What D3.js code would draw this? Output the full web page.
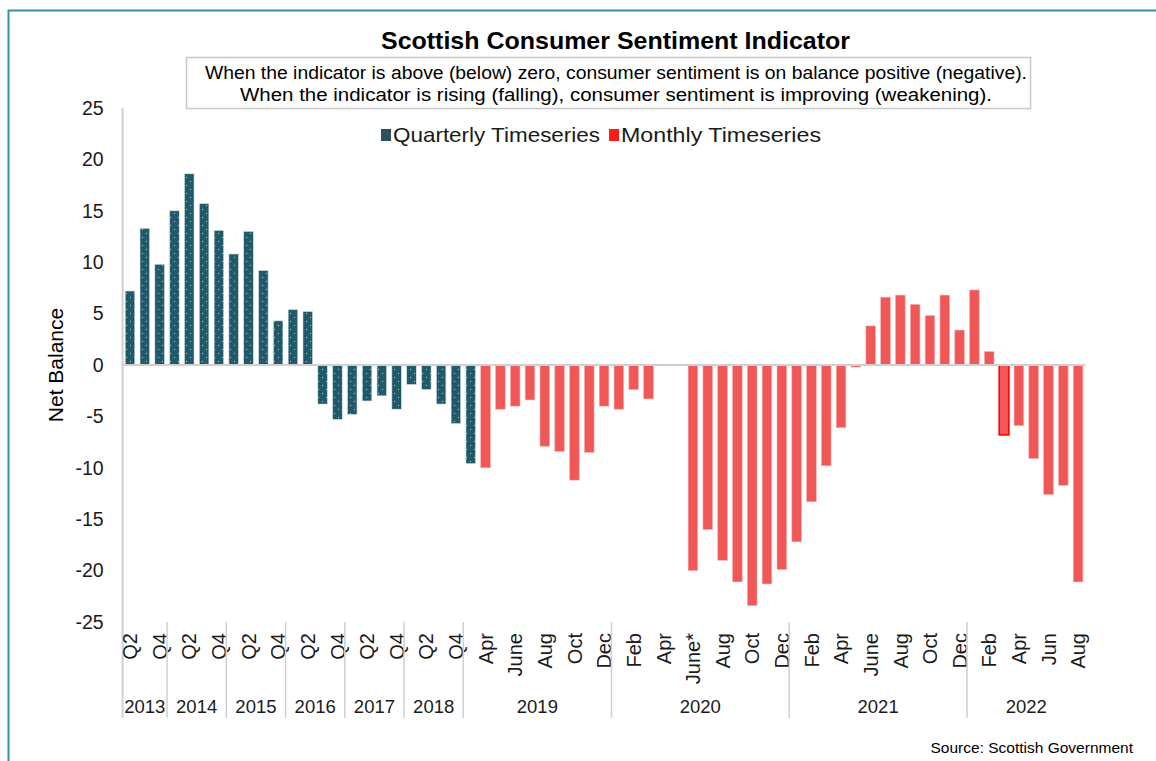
<!DOCTYPE html>
<html>
<head>
<meta charset="utf-8">
<script src="https://cdn.jsdelivr.net/npm/d3@7"></script>
<style>
  html, body { margin: 0; padding: 0; background: #fff; }
  svg { display: block; font-family: "Liberation Sans", Arial, sans-serif; }
</style>
</head>
<body>
<svg id="chart" width="1156" height="761"></svg>
<script>
// Quarterly survey, 2013 Q2 to 2019 Q1
const quarterlyPeriods = [
  "2013 Q2","2013 Q3","2013 Q4",
  "2014 Q1","2014 Q2","2014 Q3","2014 Q4",
  "2015 Q1","2015 Q2","2015 Q3","2015 Q4",
  "2016 Q1","2016 Q2","2016 Q3","2016 Q4",
  "2017 Q1","2017 Q2","2017 Q3","2017 Q4",
  "2018 Q1","2018 Q2","2018 Q3","2018 Q4",
  "2019 Q1"
];
const quarterlyValues = [
  7.2, 13.3, 9.8,
  15.0, 18.6, 15.7, 13.1,
  10.8, 13.0, 9.2, 4.3,
  5.4, 5.2, -3.8, -5.3,
  -4.8, -3.5, -3.0, -4.3,
  -1.9, -2.4, -3.8, -5.7,
  -9.6
];

// Monthly survey, April 2019 to August 2022 (no survey in April / May 2020)
const monthlyPeriods = [
  "2019 Apr","2019 May","2019 June","2019 Jul","2019 Aug","2019 Sep","2019 Oct","2019 Nov","2019 Dec",
  "2020 Jan","2020 Feb","2020 Mar","2020 Apr","2020 May","2020 June*","2020 Jul","2020 Aug","2020 Sep","2020 Oct","2020 Nov","2020 Dec",
  "2021 Jan","2021 Feb","2021 Mar","2021 Apr","2021 May","2021 June","2021 Jul","2021 Aug","2021 Sep","2021 Oct","2021 Nov","2021 Dec",
  "2022 Jan","2022 Feb","2022 Mar","2022 Apr","2022 May","2022 Jun","2022 Jul","2022 Aug"
];
const monthlyValues = [
  -10.0, -4.3, -4.0, -3.4, -7.9, -8.4, -11.2, -8.5, -4.0,
  -4.3, -2.4, -3.3, null, null, -20.0, -16.0, -19.0, -21.1, -23.4, -21.3, -19.9,
  -17.2, -13.3, -9.8, -6.1, -0.2, 3.8, 6.6, 6.8, 5.9, 4.8, 6.8, 3.4,
  7.3, 1.3, -6.8, -5.9, -9.1, -12.6, -11.7, -21.1
];
const highlightedPeriod = "2022 Mar";

const yTicks = [25, 20, 15, 10, 5, 0, -5, -10, -15, -20, -25];

const title = "Scottish Consumer Sentiment Indicator";
const noteLines = [
  "When the indicator is above (below) zero, consumer sentiment is on balance positive (negative).",
  "When the indicator is rising (falling), consumer sentiment is improving (weakening)."
];
const seriesNames = ["Quarterly Timeseries", "Monthly Timeseries"];
const source = "Source: Scottish Government";

const colors = { quarterly: "#235a6a", monthly: "#f05757", highlight: "#ff0000",
                 axis: "#d0d0d0", frame: "#3a8ea6", text: "#1a1a1a" };

// ---- build categories ----
const rows = [];
quarterlyPeriods.forEach((p, i) => {
  const [year, label] = p.split(" ");
  rows.push({ key: p, year, label, value: quarterlyValues[i], series: "quarterly" });
});
monthlyPeriods.forEach((p, i) => {
  const [year, label] = p.split(" ");
  rows.push({ key: p, year, label, value: monthlyValues[i], series: "monthly" });
});

const svg = d3.select("#chart");
const plot = { left: 122.6, right: 1085.5, top: 108, bottom: 622, axisBottom: 718 };

const x = d3.scaleBand()
  .domain(rows.map(d => d.key))
  .range([plot.left, plot.right])
  .paddingInner(0.35)
  .paddingOuter(0.175);

const y = d3.scaleLinear().domain([-25, 25]).range([plot.bottom, plot.top]);

// frame
svg.append("rect")
  .attr("x", 8.5).attr("y", 10.5)
  .attr("width", 1200).attr("height", 800)
  .attr("fill", "none").attr("stroke", colors.frame).attr("stroke-width", 2);

// dotted fill used for the quarterly bars
const defs = svg.append("defs");
const pat = defs.append("pattern")
  .attr("id", "dots").attr("patternUnits", "userSpaceOnUse")
  .attr("width", 8).attr("height", 8);
pat.append("rect").attr("width", 8).attr("height", 8).attr("fill", colors.quarterly);
pat.append("rect").attr("x", 2).attr("y", 1).attr("width", 1).attr("height", 1).attr("fill", "#b9ccd1");
pat.append("rect").attr("x", 6).attr("y", 5).attr("width", 1).attr("height", 1).attr("fill", "#b9ccd1");

// title
svg.append("text")
  .attr("x", 615.5).attr("y", 49)
  .attr("text-anchor", "middle")
  .attr("font-size", 24.5).attr("font-weight", "bold").attr("fill", "#000")
  .attr("textLength", 469).attr("lengthAdjust", "spacingAndGlyphs")
  .text(title);

// note box
svg.append("rect")
  .attr("x", 186.5).attr("y", 57.5).attr("width", 844).attr("height", 51)
  .attr("fill", "#fff").attr("stroke", "#c8c8c8").attr("stroke-width", 1.5);
const noteWidths = [822, 752];
noteLines.forEach((t, i) => {
  svg.append("text")
    .attr("x", 616).attr("y", 79 + i * 22)
    .attr("text-anchor", "middle")
    .attr("font-size", 17.5).attr("fill", "#000")
    .attr("textLength", noteWidths[i]).attr("lengthAdjust", "spacingAndGlyphs")
    .text(t);
});

// legend
const legend = svg.append("g").attr("transform", "translate(381,0)");
const legItems = [
  { name: seriesNames[0], fill: "#2e4f5c", x: 0, w: 207 },
  { name: seriesNames[1], fill: "#ff1a1a", x: 228, w: 200 }
];
legItems.forEach(it => {
  legend.append("rect").attr("x", it.x).attr("y", 129).attr("width", 10).attr("height", 12).attr("fill", it.fill);
  legend.append("text").attr("x", it.x + 12).attr("y", 142)
    .attr("font-size", 21).attr("fill", colors.text)
    .attr("textLength", it.w).attr("lengthAdjust", "spacingAndGlyphs")
    .text(it.name);
});

// y axis tick labels (plain hyphen for negatives)
const yAxis = svg.append("g")
  .attr("transform", `translate(${plot.left},0)`)
  .call(d3.axisLeft(y).tickValues(yTicks).tickSize(0).tickPadding(19).tickFormat(d => String(d)));
yAxis.select(".domain").remove();
yAxis.selectAll("text")
  .attr("font-family", "Liberation Sans, Arial, sans-serif")
  .attr("font-size", 19.5).attr("fill", colors.text);

// y axis title
svg.append("text")
  .attr("transform", "translate(63,365) rotate(-90)")
  .attr("text-anchor", "middle")
  .attr("font-size", 21).attr("fill", "#000")
  .text("Net Balance");

// bars
svg.append("g").selectAll("rect")
  .data(rows.filter(d => d.value !== null))
  .join("rect")
  .attr("x", d => x(d.key))
  .attr("width", x.bandwidth())
  .attr("y", d => y(Math.max(0, d.value)))
  .attr("height", d => Math.abs(y(d.value) - y(0)))
  .attr("fill", d => d.series === "quarterly" ? "url(#dots)" : colors.monthly)
  .attr("stroke", d => d.key === highlightedPeriod ? colors.highlight : (d.series === "quarterly" ? "#dbe6e8" : "#f7b0b0"))
  .attr("stroke-width", d => d.key === highlightedPeriod ? 1.6 : 0.6);

// zero line and vertical axis line
svg.append("line")
  .attr("x1", plot.left).attr("x2", plot.right)
  .attr("y1", y(0)).attr("y2", y(0))
  .attr("stroke", colors.axis).attr("stroke-width", 2);
svg.append("line")
  .attr("x1", plot.left).attr("x2", plot.left)
  .attr("y1", plot.top).attr("y2", plot.axisBottom)
  .attr("stroke", colors.axis).attr("stroke-width", 2);

// category tick labels (every second category)
const xAxis = svg.append("g")
  .attr("transform", `translate(0,${plot.bottom})`)
  .call(d3.axisBottom(x)
    .tickValues(rows.filter((d, i) => i % 2 === 0).map(d => d.key))
    .tickSize(0)
    .tickFormat(k => k.split(" ")[1]));
xAxis.select(".domain").remove();
xAxis.selectAll("text")
  .attr("font-family", "Liberation Sans, Arial, sans-serif")
  .attr("font-size", 20).attr("fill", colors.text)
  .attr("text-anchor", "end")
  .attr("transform", "rotate(-90)")
  .attr("x", -11).attr("y", 0).attr("dy", "0.36em");

// year groups: dividers and labels
const years = Array.from(d3.group(rows, d => d.year), ([year, items]) => ({ year, items }));
const step = x.step();
const edge = key => x(key) - (step - x.bandwidth()) / 2;
years.forEach((g, gi) => {
  const x0 = edge(g.items[0].key);
  const x1 = edge(g.items[g.items.length - 1].key) + step;
  if (gi > 0) {
    svg.append("line")
      .attr("x1", x0).attr("x2", x0)
      .attr("y1", plot.bottom).attr("y2", plot.axisBottom)
      .attr("stroke", colors.axis).attr("stroke-width", 1.5);
  }
  svg.append("text")
    .attr("x", (x0 + x1) / 2).attr("y", 713)
    .attr("text-anchor", "middle")
    .attr("font-size", 18.5).attr("fill", colors.text)
    .text(g.year);
});

// source
svg.append("text")
  .attr("x", 1133).attr("y", 753)
  .attr("text-anchor", "end")
  .attr("font-size", 15.5).attr("fill", "#000")
  .text(source);
</script>
</body>
</html>
